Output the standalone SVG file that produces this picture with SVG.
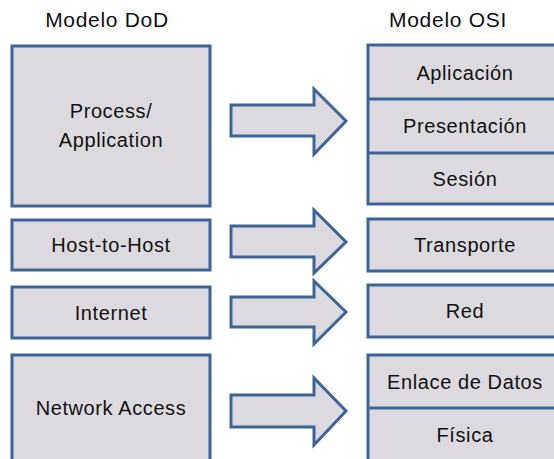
<svg xmlns="http://www.w3.org/2000/svg" width="554" height="459" viewBox="0 0 554 459">
  <style>
    .box { fill: #dddadf; stroke: #3d6496; stroke-width: 3; }
    .div { stroke: #3d6496; stroke-width: 3; fill: none; }
    .arrow { fill: #dddadf; stroke: #3d6496; stroke-width: 3; stroke-linejoin: miter; }
    text { font-family: "Liberation Sans", Arial, sans-serif; font-size: 20px; letter-spacing: 0.6px; fill: #111; text-anchor: middle; }
    .title { font-size: 21px; letter-spacing: 0.7px; }
  </style>
  <rect width="554" height="459" fill="#ffffff"/>

  <!-- column titles -->
  <text class="title" x="107" y="27">Modelo DoD</text>
  <text class="title" x="448" y="27">Modelo OSI</text>

  <!-- DoD layers -->
  <g id="dod-process">
    <rect class="box" x="12" y="46" width="198" height="160"/>
    <text x="111" y="118">Process/</text>
    <text x="111" y="147">Application</text>
  </g>
  <g id="dod-host">
    <rect class="box" x="12" y="220" width="198" height="50"/>
    <text x="111" y="252">Host-to-Host</text>
  </g>
  <g id="dod-internet">
    <rect class="box" x="12" y="287" width="198" height="51"/>
    <text x="111" y="320">Internet</text>
  </g>
  <g id="dod-network">
    <rect class="box" x="12" y="355" width="198" height="110"/>
    <text x="111" y="415">Network Access</text>
  </g>

  <!-- OSI layers -->
  <g id="osi-upper">
    <rect class="box" x="368" y="45" width="200" height="159"/>
    <line class="div" x1="368" y1="99" x2="568" y2="99"/>
    <line class="div" x1="368" y1="153" x2="568" y2="153"/>
    <text x="465" y="80">Aplicación</text>
    <text x="465" y="133">Presentación</text>
    <text x="465" y="186">Sesión</text>
  </g>
  <g id="osi-transporte">
    <rect class="box" x="368" y="219" width="200" height="52"/>
    <text x="465" y="252">Transporte</text>
  </g>
  <g id="osi-red">
    <rect class="box" x="368" y="285" width="200" height="52"/>
    <text x="465" y="318">Red</text>
  </g>
  <g id="osi-lower">
    <rect class="box" x="368" y="355" width="200" height="110"/>
    <line class="div" x1="368" y1="408" x2="568" y2="408"/>
    <text x="465" y="389">Enlace de Datos</text>
    <text x="465" y="442">Física</text>
  </g>

  <!-- block arrows between models -->
  <g id="connectors">
    <polygon class="arrow" points="231,105 314,105 314,89 346,121 314,154 314,136 231,136"/>
    <polygon class="arrow" points="231,226 314,226 314,210 346,242 314,273 314,257 231,257"/>
    <polygon class="arrow" points="231,297 314,297 314,281 346,312 314,344 314,327 231,327"/>
    <polygon class="arrow" points="231,395 314,395 314,378 346,411 314,445 314,427 231,427"/>
  </g>
</svg>
